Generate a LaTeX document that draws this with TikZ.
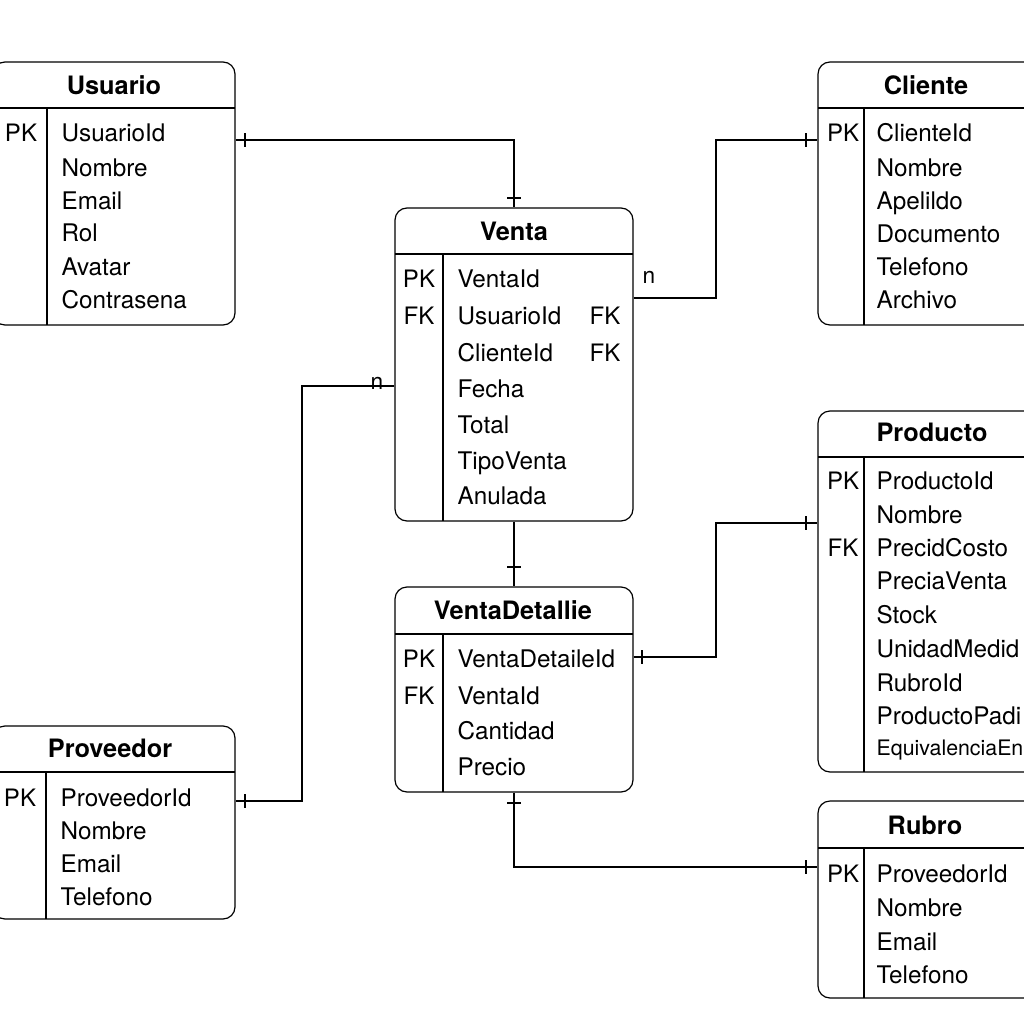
\documentclass[tikz,border=0pt]{standalone}
\usepackage{fontspec}
\setmainfont{TeX Gyre Heros}
\usetikzlibrary{calc,fit}
\begin{document}
\begin{tikzpicture}[x=0.75pt,y=-0.75pt,line width=0.9pt,
  tbl/.style={draw,rounded corners=9pt,inner sep=0pt},
  ttl/.style={font=\fontsize{19}{21}\selectfont\bfseries,inner sep=0pt,anchor=base},
  att/.style={font=\fontsize{18.2}{20}\selectfont,inner sep=0pt,anchor=base west},
  sml/.style={font=\fontsize{16}{18}\selectfont,inner sep=0pt,anchor=base west},
  key/.style={font=\fontsize{18}{20}\selectfont,inner sep=0pt,anchor=base},
  rel/.style={line width=0.9pt},
  tick/.style={line width=0.9pt}]
\useasboundingbox (0,0) rectangle (1024,1024);
\fill[white] (0,0) rectangle (1024,1024);
\clip (0,0) rectangle (1024,1024);

% ---------- Usuario ----------
\node[tbl,fit={(-7,62) (235,325)}] (usuario) {};
\draw (-7,108) -- (235,108);
\draw (47,108) -- (47,325);
\node[ttl] (usuarioT) at (114,94) {Usuario};
\node[key] (usuarioPK) at (21,142) {PK};
\node[att] (u1) at (61,142) {UsuarioId};
\node[att] (u2) at (61,176) {Nombre};
\node[att] (u3) at (61,209) {Email};
\node[att] (u4) at (61,241) {Rol};
\node[att] (u5) at (61,275) {Avatar};
\node[att] (u6) at (61,308) {Contrasena};

% ---------- Cliente ----------
\node[tbl,fit={(818,62) (1050,325)}] (cliente) {};
\draw (818,108) -- (1050,108);
\draw (864,108) -- (864,325);
\node[ttl] (clienteT) at (926,94) {Cliente};
\node[key] (clientePK) at (843,142) {PK};
\node[att] (c1) at (876,142) {ClienteId};
\node[att] (c2) at (876,176) {Nombre};
\node[att] (c3) at (876,209) {Apelildo};
\node[att] (c4) at (876,242) {Documento};
\node[att] (c5) at (876,275) {Telefono};
\node[att] (c6) at (876,308) {Archivo};

% ---------- Venta ----------
\node[tbl,fit={(395,208) (633,521)}] (venta) {};
\draw (395,254) -- (633,254);
\draw (443,254) -- (443,521);
\node[ttl] (ventaT) at (514,240) {Venta};
\node[key] (ventaPK) at (419,287) {PK};
\node[key] (ventaFK) at (419,324) {FK};
\node[att] (v1) at (457,287) {VentaId};
\node[att] (v2) at (457,324) {UsuarioId};
\node[att] (v3) at (457,361) {ClienteId};
\node[att] (v4) at (457,397) {Fecha};
\node[att] (v5) at (457,433) {Total};
\node[att] (v6) at (457,469) {TipoVenta};
\node[att] (v7) at (457,504) {Anulada};
\node[key] (ventaFK2) at (605,324) {FK};
\node[key] (ventaFK3) at (605,361) {FK};

% ---------- VentaDetallie ----------
\node[tbl,fit={(395,587) (633,792)}] (vd) {};
\draw (395,634) -- (633,634);
\draw (443,634) -- (443,792);
\node[ttl] (vdT) at (513,619) {VentaDetallie};
\node[key] (vdPK) at (419,667) {PK};
\node[key] (vdFK) at (419,704) {FK};
\node[att] (d1) at (457,667) {VentaDetaileId};
\node[att] (d2) at (457,704) {VentaId};
\node[att] (d3) at (457,739) {Cantidad};
\node[att] (d4) at (457,775) {Precio};

% ---------- Proveedor ----------
\node[tbl,fit={(-7,726) (235,919)}] (proveedor) {};
\draw (-7,772) -- (235,772);
\draw (46,772) -- (46,919);
\node[ttl] (proveedorT) at (110,757) {Proveedor};
\node[key] (proveedorPK) at (20,806) {PK};
\node[att] (p1) at (60,806) {ProveedorId};
\node[att] (p2) at (60,839) {Nombre};
\node[att] (p3) at (60,872) {Email};
\node[att] (p4) at (60,905) {Telefono};

% ---------- Producto ----------
\node[tbl,fit={(818,411) (1050,772)}] (producto) {};
\draw (818,457) -- (1050,457);
\draw (864,457) -- (864,772);
\node[ttl] (productoT) at (932,441) {Producto};
\node[key] (productoPK) at (843,489) {PK};
\node[key] (productoFK) at (843,556) {FK};
\node[att] (r1) at (876,489) {ProductoId};
\node[att] (r2) at (876,523) {Nombre};
\node[att] (r3) at (876,556) {PrecidCosto};
\node[att] (r4) at (876,589) {PreciaVenta};
\node[att] (r5) at (876,623) {Stock};
\node[att] (r6) at (876,657) {UnidadMedid};
\node[att] (r7) at (876,691) {RubroId};
\node[att] (r8) at (876,724) {ProductoPadi};
\node[sml] (r9) at (876,755) {EquivalenciaEn};

% ---------- Rubro ----------
\node[tbl,fit={(818,801) (1050,998)}] (rubro) {};
\draw (818,848) -- (1050,848);
\draw (864,848) -- (864,998);
\node[ttl] (rubroT) at (925,834) {Rubro};
\node[key] (rubroPK) at (843,882) {PK};
\node[att] (b1) at (876,882) {ProveedorId};
\node[att] (b2) at (876,916) {Nombre};
\node[att] (b3) at (876,950) {Email};
\node[att] (b4) at (876,983) {Telefono};

% ---------- Relationships ----------
% Usuario - Venta
\draw[rel] (usuario.east |- 0,140) -| (venta.north);
\draw[tick] (245,133) -- (245,147);
\draw[tick] (507,198) -- (521,198);
% Venta - Cliente
\draw[rel] (venta.east |- 0,298) -- (716,298) |- (cliente.west |- 0,140);
\draw[tick] (806,133) -- (806,147);
\node[key,font=\fontsize{17}{20}\selectfont] (n1) at (649,283) {n};
% Venta - Proveedor
\draw[rel] (venta.west |- 0,386) -- (302,386) |- (proveedor.east |- 0,801);
\draw[tick] (245,794) -- (245,808);
\node[key,font=\fontsize{17}{20}\selectfont] (n2) at (377,389) {n};
% Venta - VentaDetallie
\draw[rel] (venta.south) -- (vd.north);
\draw[tick] (507,567) -- (521,567);
% VentaDetallie - Producto
\draw[rel] (vd.east |- 0,657) -- (716,657) |- (producto.west |- 0,523);
\draw[tick] (642,650) -- (642,664);
\draw[tick] (806,516) -- (806,530);
% VentaDetallie - Rubro
\draw[rel] (vd.south) |- (rubro.west |- 0,867);
\draw[tick] (507,803) -- (521,803);
\draw[tick] (806,860) -- (806,874);
\end{tikzpicture}
\end{document}
